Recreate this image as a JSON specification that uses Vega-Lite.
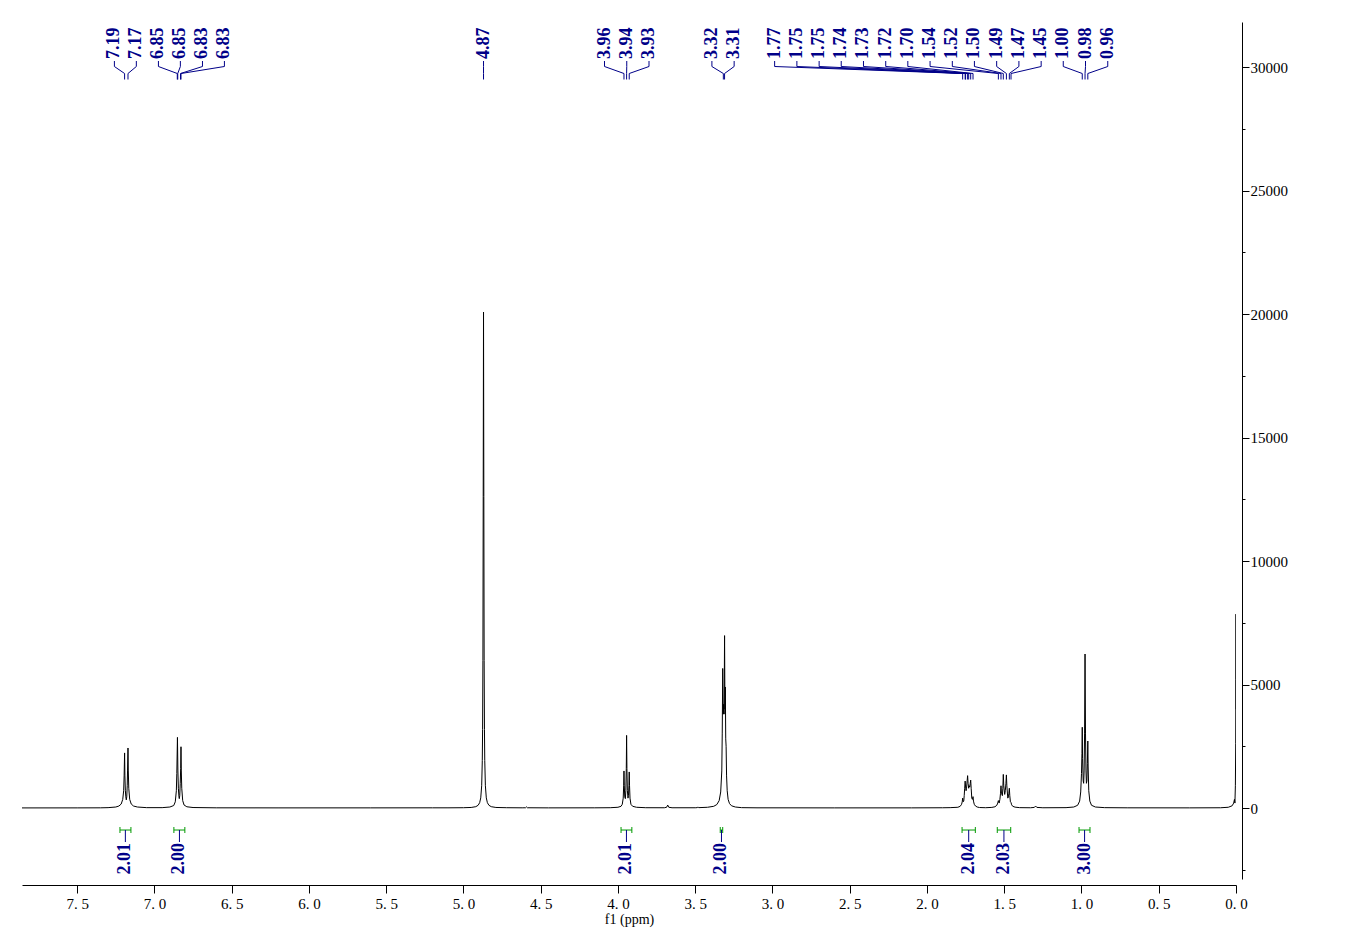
{
  "$schema": "https://vega.github.io/schema/vega-lite/v6.json",
  "width": 1214,
  "height": 857,
  "autosize": {"type": "none"},
  "padding": {"left": 22, "top": 22, "right": 112, "bottom": 73},
  "background": "white",
  "config": {
    "view": {"stroke": null},
    "axis": {"grid": false, "domainColor": "black", "tickColor": "black", "labelColor": "black", "titleColor": "black", "labelFont": "Liberation Serif", "titleFont": "Liberation Serif", "domainWidth": 1, "tickWidth": 1}
  },
  "datasets": {
    "spectrum": [
      {"ppm": 7.86, "intensity": 4}, {"ppm": 7.5, "intensity": 5}, {"ppm": 7.35, "intensity": 8}, {"ppm": 7.3, "intensity": 15},
      {"ppm": 7.25, "intensity": 40}, {"ppm": 7.23, "intensity": 80}, {"ppm": 7.215, "intensity": 160}, {"ppm": 7.205, "intensity": 350},
      {"ppm": 7.199, "intensity": 700}, {"ppm": 7.196, "intensity": 1300}, {"ppm": 7.193, "intensity": 2230}, {"ppm": 7.191, "intensity": 1300},
      {"ppm": 7.188, "intensity": 700}, {"ppm": 7.185, "intensity": 450}, {"ppm": 7.182, "intensity": 330}, {"ppm": 7.179, "intensity": 450},
      {"ppm": 7.176, "intensity": 900}, {"ppm": 7.174, "intensity": 1500}, {"ppm": 7.171, "intensity": 2430}, {"ppm": 7.169, "intensity": 1500},
      {"ppm": 7.166, "intensity": 800}, {"ppm": 7.16, "intensity": 350}, {"ppm": 7.15, "intensity": 160}, {"ppm": 7.135, "intensity": 80},
      {"ppm": 7.11, "intensity": 40}, {"ppm": 7.05, "intensity": 15}, {"ppm": 6.95, "intensity": 15}, {"ppm": 6.9, "intensity": 40},
      {"ppm": 6.875, "intensity": 100}, {"ppm": 6.865, "intensity": 250}, {"ppm": 6.858, "intensity": 700}, {"ppm": 6.855, "intensity": 1400},
      {"ppm": 6.851, "intensity": 2860}, {"ppm": 6.848, "intensity": 1500}, {"ppm": 6.845, "intensity": 800}, {"ppm": 6.841, "intensity": 450},
      {"ppm": 6.839, "intensity": 380}, {"ppm": 6.836, "intensity": 500}, {"ppm": 6.833, "intensity": 1000}, {"ppm": 6.83, "intensity": 1600},
      {"ppm": 6.828, "intensity": 2480}, {"ppm": 6.826, "intensity": 1500}, {"ppm": 6.823, "intensity": 800}, {"ppm": 6.817, "intensity": 300},
      {"ppm": 6.808, "intensity": 120}, {"ppm": 6.79, "intensity": 50}, {"ppm": 6.75, "intensity": 20}, {"ppm": 6.6, "intensity": 8},
      {"ppm": 6.2, "intensity": 5}, {"ppm": 5.6, "intensity": 6}, {"ppm": 5.2, "intensity": 8}, {"ppm": 5.1, "intensity": 8},
      {"ppm": 5.0, "intensity": 12}, {"ppm": 4.95, "intensity": 22}, {"ppm": 4.92, "intensity": 54}, {"ppm": 4.905, "intensity": 110},
      {"ppm": 4.895, "intensity": 215}, {"ppm": 4.888, "intensity": 410}, {"ppm": 4.882, "intensity": 901}, {"ppm": 4.878, "intensity": 1918},
      {"ppm": 4.876, "intensity": 3174}, {"ppm": 4.874, "intensity": 5964}, {"ppm": 4.872, "intensity": 12615}, {"ppm": 4.87, "intensity": 20080},
      {"ppm": 4.868, "intensity": 12615}, {"ppm": 4.866, "intensity": 5964}, {"ppm": 4.864, "intensity": 3174}, {"ppm": 4.862, "intensity": 1918},
      {"ppm": 4.858, "intensity": 901}, {"ppm": 4.852, "intensity": 410}, {"ppm": 4.845, "intensity": 215}, {"ppm": 4.835, "intensity": 110},
      {"ppm": 4.82, "intensity": 54}, {"ppm": 4.79, "intensity": 22}, {"ppm": 4.72, "intensity": 12}, {"ppm": 4.62, "intensity": 8},
      {"ppm": 4.598, "intensity": 10}, {"ppm": 4.592, "intensity": 45}, {"ppm": 4.586, "intensity": 10}, {"ppm": 4.45, "intensity": 6},
      {"ppm": 4.15, "intensity": 8}, {"ppm": 4.05, "intensity": 12}, {"ppm": 4.0, "intensity": 30}, {"ppm": 3.98, "intensity": 70},
      {"ppm": 3.972, "intensity": 150}, {"ppm": 3.966, "intensity": 400}, {"ppm": 3.963, "intensity": 900}, {"ppm": 3.961, "intensity": 1500},
      {"ppm": 3.959, "intensity": 900}, {"ppm": 3.956, "intensity": 450}, {"ppm": 3.952, "intensity": 380}, {"ppm": 3.949, "intensity": 700},
      {"ppm": 3.946, "intensity": 1600}, {"ppm": 3.944, "intensity": 2940}, {"ppm": 3.942, "intensity": 1600}, {"ppm": 3.939, "intensity": 700},
      {"ppm": 3.935, "intensity": 400}, {"ppm": 3.932, "intensity": 500}, {"ppm": 3.929, "intensity": 900}, {"ppm": 3.927, "intensity": 1460},
      {"ppm": 3.925, "intensity": 900}, {"ppm": 3.922, "intensity": 400}, {"ppm": 3.916, "intensity": 150}, {"ppm": 3.905, "intensity": 70},
      {"ppm": 3.88, "intensity": 30}, {"ppm": 3.82, "intensity": 12}, {"ppm": 3.7, "intensity": 10}, {"ppm": 3.685, "intensity": 30},
      {"ppm": 3.678, "intensity": 120}, {"ppm": 3.671, "intensity": 30}, {"ppm": 3.65, "intensity": 10}, {"ppm": 3.5, "intensity": 10},
      {"ppm": 3.487, "intensity": 15}, {"ppm": 3.482, "intensity": 45}, {"ppm": 3.477, "intensity": 15}, {"ppm": 3.42, "intensity": 30},
      {"ppm": 3.38, "intensity": 70}, {"ppm": 3.36, "intensity": 140}, {"ppm": 3.345, "intensity": 300}, {"ppm": 3.335, "intensity": 650},
      {"ppm": 3.328, "intensity": 1500}, {"ppm": 3.325, "intensity": 3000}, {"ppm": 3.322, "intensity": 5650}, {"ppm": 3.319, "intensity": 3800},
      {"ppm": 3.316, "intensity": 4200}, {"ppm": 3.313, "intensity": 3800}, {"ppm": 3.31, "intensity": 6980}, {"ppm": 3.3075, "intensity": 4000},
      {"ppm": 3.305, "intensity": 4900}, {"ppm": 3.3025, "intensity": 2800}, {"ppm": 3.3, "intensity": 2500}, {"ppm": 3.297, "intensity": 1300},
      {"ppm": 3.293, "intensity": 700}, {"ppm": 3.287, "intensity": 350}, {"ppm": 3.278, "intensity": 180}, {"ppm": 3.265, "intensity": 90},
      {"ppm": 3.24, "intensity": 40}, {"ppm": 3.2, "intensity": 15}, {"ppm": 3.1, "intensity": 8}, {"ppm": 2.6, "intensity": 5},
      {"ppm": 2.1, "intensity": 6}, {"ppm": 1.9, "intensity": 10}, {"ppm": 1.85, "intensity": 15}, {"ppm": 1.8, "intensity": 30},
      {"ppm": 1.785, "intensity": 70}, {"ppm": 1.776, "intensity": 150}, {"ppm": 1.772, "intensity": 250}, {"ppm": 1.769, "intensity": 400},
      {"ppm": 1.766, "intensity": 250}, {"ppm": 1.762, "intensity": 280}, {"ppm": 1.759, "intensity": 500}, {"ppm": 1.756, "intensity": 800},
      {"ppm": 1.753, "intensity": 1090}, {"ppm": 1.75, "intensity": 850}, {"ppm": 1.747, "intensity": 700}, {"ppm": 1.744, "intensity": 800},
      {"ppm": 1.74, "intensity": 1100}, {"ppm": 1.737, "intensity": 1310}, {"ppm": 1.734, "intensity": 1000}, {"ppm": 1.73, "intensity": 800},
      {"ppm": 1.727, "intensity": 900}, {"ppm": 1.723, "intensity": 850}, {"ppm": 1.72, "intensity": 1000}, {"ppm": 1.717, "intensity": 1130},
      {"ppm": 1.714, "intensity": 800}, {"ppm": 1.71, "intensity": 400}, {"ppm": 1.706, "intensity": 350}, {"ppm": 1.702, "intensity": 460},
      {"ppm": 1.699, "intensity": 280}, {"ppm": 1.694, "intensity": 150}, {"ppm": 1.686, "intensity": 80}, {"ppm": 1.675, "intensity": 40},
      {"ppm": 1.66, "intensity": 20}, {"ppm": 1.62, "intensity": 12}, {"ppm": 1.58, "intensity": 25}, {"ppm": 1.56, "intensity": 50},
      {"ppm": 1.548, "intensity": 110}, {"ppm": 1.542, "intensity": 200}, {"ppm": 1.538, "intensity": 300}, {"ppm": 1.533, "intensity": 200},
      {"ppm": 1.528, "intensity": 350}, {"ppm": 1.524, "intensity": 600}, {"ppm": 1.521, "intensity": 900}, {"ppm": 1.518, "intensity": 600},
      {"ppm": 1.512, "intensity": 500}, {"ppm": 1.509, "intensity": 800}, {"ppm": 1.506, "intensity": 1360}, {"ppm": 1.503, "intensity": 900},
      {"ppm": 1.497, "intensity": 550}, {"ppm": 1.493, "intensity": 700}, {"ppm": 1.489, "intensity": 1000}, {"ppm": 1.486, "intensity": 1340},
      {"ppm": 1.483, "intensity": 900}, {"ppm": 1.477, "intensity": 400}, {"ppm": 1.473, "intensity": 450}, {"ppm": 1.47, "intensity": 600},
      {"ppm": 1.467, "intensity": 800}, {"ppm": 1.464, "intensity": 500}, {"ppm": 1.46, "intensity": 250}, {"ppm": 1.456, "intensity": 220},
      {"ppm": 1.452, "intensity": 130}, {"ppm": 1.445, "intensity": 70}, {"ppm": 1.43, "intensity": 35}, {"ppm": 1.4, "intensity": 15},
      {"ppm": 1.33, "intensity": 10}, {"ppm": 1.305, "intensity": 25}, {"ppm": 1.297, "intensity": 80}, {"ppm": 1.289, "intensity": 25},
      {"ppm": 1.25, "intensity": 10}, {"ppm": 1.1, "intensity": 15}, {"ppm": 1.05, "intensity": 40}, {"ppm": 1.025, "intensity": 110},
      {"ppm": 1.012, "intensity": 280}, {"ppm": 1.005, "intensity": 650}, {"ppm": 1.0, "intensity": 1400}, {"ppm": 0.997, "intensity": 2200},
      {"ppm": 0.995, "intensity": 3270}, {"ppm": 0.993, "intensity": 2000}, {"ppm": 0.989, "intensity": 1100}, {"ppm": 0.986, "intensity": 1000},
      {"ppm": 0.983, "intensity": 1500}, {"ppm": 0.98, "intensity": 3000}, {"ppm": 0.977, "intensity": 6235}, {"ppm": 0.974, "intensity": 3000},
      {"ppm": 0.971, "intensity": 1500}, {"ppm": 0.968, "intensity": 1000}, {"ppm": 0.965, "intensity": 1100}, {"ppm": 0.962, "intensity": 1800},
      {"ppm": 0.959, "intensity": 2713}, {"ppm": 0.957, "intensity": 1700}, {"ppm": 0.953, "intensity": 700}, {"ppm": 0.946, "intensity": 280},
      {"ppm": 0.935, "intensity": 110}, {"ppm": 0.91, "intensity": 40}, {"ppm": 0.85, "intensity": 15}, {"ppm": 0.7, "intensity": 8},
      {"ppm": 0.3, "intensity": 6}, {"ppm": 0.1, "intensity": 10}, {"ppm": 0.05, "intensity": 30}, {"ppm": 0.025, "intensity": 90},
      {"ppm": 0.015, "intensity": 200}, {"ppm": 0.01, "intensity": 350}, {"ppm": 0.007, "intensity": 200}, {"ppm": 0.004, "intensity": 900},
      {"ppm": 0.002, "intensity": 2600}, {"ppm": 0.001, "intensity": 5200}, {"ppm": 0.0, "intensity": 7850}, {"ppm": -0.001, "intensity": 4000}
    ],
    "peaks": [
      {"label": "7.19", "peak": 7.193, "pos": 7.259},
      {"label": "7.17", "peak": 7.171, "pos": 7.117},
      {"label": "6.85", "peak": 6.852, "pos": 6.974},
      {"label": "6.85", "peak": 6.849, "pos": 6.832},
      {"label": "6.83", "peak": 6.831, "pos": 6.689},
      {"label": "6.83", "peak": 6.828, "pos": 6.547},
      {"label": "4.87", "peak": 4.87, "pos": 4.87},
      {"label": "3.96", "peak": 3.961, "pos": 4.087},
      {"label": "3.94", "peak": 3.944, "pos": 3.943},
      {"label": "3.93", "peak": 3.927, "pos": 3.799},
      {"label": "3.32", "peak": 3.318, "pos": 3.392},
      {"label": "3.31", "peak": 3.31, "pos": 3.248},
      {"label": "1.77", "peak": 1.769, "pos": 2.986},
      {"label": "1.75", "peak": 1.753, "pos": 2.842},
      {"label": "1.75", "peak": 1.75, "pos": 2.698},
      {"label": "1.74", "peak": 1.737, "pos": 2.555},
      {"label": "1.73", "peak": 1.73, "pos": 2.411},
      {"label": "1.72", "peak": 1.717, "pos": 2.267},
      {"label": "1.70", "peak": 1.702, "pos": 2.124},
      {"label": "1.54", "peak": 1.538, "pos": 1.98},
      {"label": "1.52", "peak": 1.521, "pos": 1.836},
      {"label": "1.50", "peak": 1.506, "pos": 1.693},
      {"label": "1.49", "peak": 1.486, "pos": 1.549},
      {"label": "1.47", "peak": 1.467, "pos": 1.405},
      {"label": "1.45", "peak": 1.456, "pos": 1.261},
      {"label": "1.00", "peak": 0.995, "pos": 1.118},
      {"label": "0.98", "peak": 0.977, "pos": 0.974},
      {"label": "0.96", "peak": 0.959, "pos": 0.83}
    ],
    "integrals": [
      {"label": "2.01", "from": 7.223, "to": 7.152, "center": 7.188},
      {"label": "2.00", "from": 6.874, "to": 6.803, "center": 6.838},
      {"label": "2.01", "from": 3.98, "to": 3.91, "center": 3.945},
      {"label": "2.00", "from": 3.338, "to": 3.322, "center": 3.33},
      {"label": "2.04", "from": 1.773, "to": 1.687, "center": 1.73},
      {"label": "2.03", "from": 1.545, "to": 1.458, "center": 1.502},
      {"label": "3.00", "from": 1.016, "to": 0.945, "center": 0.98}
    ]
  },
  "layer": [
    {
      "data": {"name": "spectrum"},
      "mark": {"type": "line", "color": "black", "strokeWidth": 1, "clip": true, "interpolate": "linear"},
      "encoding": {
        "x": {
          "field": "ppm", "type": "quantitative",
          "scale": {"domain": [0, 7.857], "reverse": true, "nice": false, "zero": false},
          "axis": {
            "orient": "bottom", "offset": 6, "title": "f1 (ppm)", "titleFontSize": 14, "titleFontWeight": "normal", "titlePadding": 1,
            "values": [0, 0.25, 0.5, 0.75, 1, 1.25, 1.5, 1.75, 2, 2.25, 2.5, 2.75, 3, 3.25, 3.5, 3.75, 4, 4.25, 4.5, 4.75, 5, 5.25, 5.5, 5.75, 6, 6.25, 6.5, 6.75, 7, 7.25, 7.5, 7.75],
            "labelExpr": "abs(datum.value*2 - round(datum.value*2)) < 0.01 ? replace(format(datum.value, '.1f'), '.', '. ') : ''",
            "labelOverlap": false, "labelFontSize": 15, "labelPadding": 3, "labelFlush": false,
            "tickSize": {"condition": {"test": "abs(datum.value*2 - round(datum.value*2)) < 0.01", "value": 8}, "value": 4}
          }
        },
        "y": {
          "field": "intensity", "type": "quantitative",
          "scale": {"domain": [-2874, 31822], "nice": false, "zero": false},
          "axis": {
            "orient": "right", "offset": 6, "title": null,
            "values": [-2500, 0, 2500, 5000, 7500, 10000, 12500, 15000, 17500, 20000, 22500, 25000, 27500, 30000],
            "labelExpr": "datum.value % 5000 === 0 ? format(datum.value, 'd') : ''",
            "labelOverlap": false, "labelFontSize": 15, "labelPadding": 1, "labelFlush": false,
            "tickSize": {"condition": {"test": "datum.value % 5000 === 0", "value": 7}, "value": 3}
          }
        }
      }
    },
    {
      "data": {"name": "peaks"},
      "mark": {"type": "text", "angle": 270, "align": "left", "baseline": "middle", "font": "Liberation Serif", "fontSize": 18, "fontWeight": "bold", "color": "#000088"},
      "encoding": {
        "x": {"field": "pos", "type": "quantitative"},
        "y": {"datum": 30324},
        "text": {"field": "label"}
      }
    },
    {
      "data": {"name": "peaks"},
      "mark": {"type": "rule", "color": "#000088", "strokeWidth": 1},
      "encoding": {
        "x": {"field": "pos", "type": "quantitative"},
        "y": {"datum": 30243},
        "y2": {"datum": 30020}
      }
    },
    {
      "data": {"name": "peaks"},
      "mark": {"type": "rule", "color": "#000088", "strokeWidth": 1},
      "encoding": {
        "x": {"field": "pos", "type": "quantitative"},
        "x2": {"field": "peak"},
        "y": {"datum": 30020},
        "y2": {"datum": 29737}
      }
    },
    {
      "data": {"name": "peaks"},
      "mark": {"type": "rule", "color": "#000088", "strokeWidth": 1},
      "encoding": {
        "x": {"field": "peak", "type": "quantitative"},
        "y": {"datum": 29737},
        "y2": {"datum": 29494}
      }
    },
    {
      "data": {"name": "integrals"},
      "mark": {"type": "rule", "color": "#009900", "strokeWidth": 1},
      "encoding": {
        "x": {"field": "from", "type": "quantitative"},
        "x2": {"field": "to"},
        "y": {"datum": -891}
      }
    },
    {
      "data": {"name": "integrals"},
      "mark": {"type": "rule", "color": "#009900", "strokeWidth": 1},
      "encoding": {
        "x": {"field": "from", "type": "quantitative"},
        "y": {"datum": -769},
        "y2": {"datum": -1012}
      }
    },
    {
      "data": {"name": "integrals"},
      "mark": {"type": "rule", "color": "#009900", "strokeWidth": 1},
      "encoding": {
        "x": {"field": "to", "type": "quantitative"},
        "y": {"datum": -769},
        "y2": {"datum": -1012}
      }
    },
    {
      "data": {"name": "integrals"},
      "mark": {"type": "rule", "color": "#000088", "strokeWidth": 1},
      "encoding": {
        "x": {"field": "center", "type": "quantitative"},
        "y": {"datum": -891},
        "y2": {"datum": -1377}
      }
    },
    {
      "data": {"name": "integrals"},
      "mark": {"type": "text", "angle": 270, "align": "right", "baseline": "middle", "font": "Liberation Serif", "fontSize": 18, "fontWeight": "bold", "color": "#000088"},
      "encoding": {
        "x": {"field": "center", "type": "quantitative"},
        "y": {"datum": -1417},
        "text": {"field": "label"}
      }
    }
  ]
}
